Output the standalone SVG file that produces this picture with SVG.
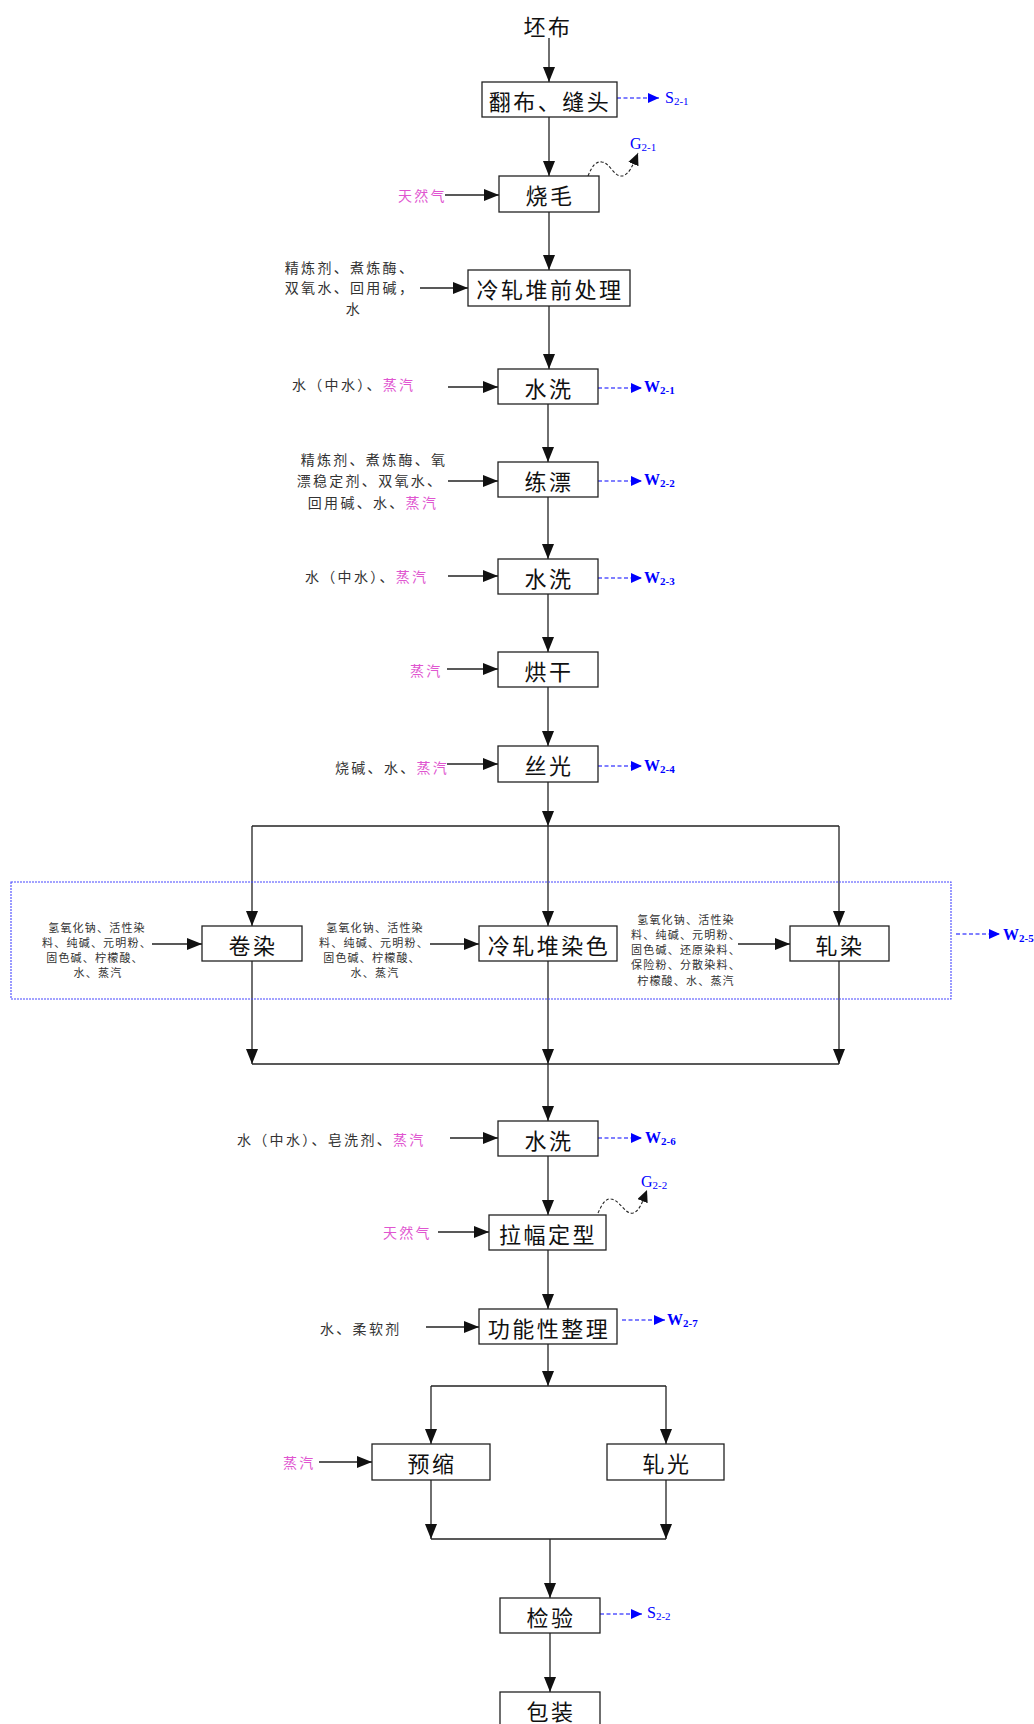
<svg xmlns="http://www.w3.org/2000/svg" width="1034" height="1724" viewBox="0 0 1034 1724">
<style>
.box{fill:#fff;stroke:#222;stroke-width:1.3}
.lbl{font-family:"Noto Sans CJK SC","Noto Sans",sans-serif;font-size:22px;letter-spacing:2.5px;fill:#111;text-anchor:middle;dominant-baseline:central}
.side{font-family:"Noto Sans CJK SC","Noto Sans",sans-serif;font-size:14px;letter-spacing:2.3px;fill:#333;dominant-baseline:central}
.small{font-family:"Noto Sans CJK SC","Noto Sans",sans-serif;font-size:11px;letter-spacing:1.2px;fill:#333;text-anchor:middle;dominant-baseline:central}
.mag{fill:#E055D0}
.ln{fill:none;stroke:#222;stroke-width:1.3}
.arr{fill:none;stroke:#222;stroke-width:1.3;marker-end:url(#ah)}
.out{fill:none;stroke:#0000FF;stroke-width:1.2;stroke-dasharray:4,2.5;marker-end:url(#bh)}
.wave{fill:none;stroke:#222;stroke-width:1.1;stroke-dasharray:3,2;marker-end:url(#wh)}
.em{font-family:"Liberation Serif",serif;font-size:16px;fill:#0000FF}
.emb{font-family:"Liberation Serif",serif;font-size:16px;font-weight:bold;fill:#0000FF}
.sub{font-size:11px}
</style>
<defs>
<marker id="ah" markerUnits="userSpaceOnUse" markerWidth="15" markerHeight="12" refX="15" refY="6" orient="auto"><path d="M0,0 L15,6 L0,12 z" fill="#111"/></marker>
<marker id="bh" markerUnits="userSpaceOnUse" markerWidth="11" markerHeight="10" refX="11" refY="5" orient="auto"><path d="M0,0 L11,5 L0,10 z" fill="#0000FF"/></marker>
<marker id="wh" markerUnits="userSpaceOnUse" markerWidth="12" markerHeight="11" refX="12" refY="5.5" orient="auto"><path d="M0,0 L12,5.5 L0,11 z" fill="#111"/></marker>
</defs>

<g id="connectors">
<path class="arr" d="M549,38 V82"/>
<path class="arr" d="M549,117 V176"/>
<path class="arr" d="M549,212 V270"/>
<path class="arr" d="M549,306 V369"/>
<path class="arr" d="M548,404 V462"/>
<path class="arr" d="M548,497 V559"/>
<path class="arr" d="M548,594 V652"/>
<path class="arr" d="M548,687 V746"/>
<path class="arr" d="M548,782 V826"/>
<path class="ln" d="M252,826 H839"/>
<path class="arr" d="M252,826 V926"/>
<path class="arr" d="M548,826 V926"/>
<path class="arr" d="M839,826 V926"/>
<path class="arr" d="M252,961 V1064"/>
<path class="arr" d="M548,961 V1064"/>
<path class="arr" d="M839,961 V1064"/>
<path class="ln" d="M252,1064 H839"/>
<path class="arr" d="M548,1064 V1121"/>
<path class="arr" d="M548,1156 V1215"/>
<path class="arr" d="M548,1250 V1309"/>
<path class="arr" d="M548,1344 V1386"/>
<path class="ln" d="M431,1386 H666"/>
<path class="arr" d="M431,1386 V1444"/>
<path class="arr" d="M666,1386 V1444"/>
<path class="arr" d="M431,1480 V1539"/>
<path class="arr" d="M666,1480 V1539"/>
<path class="ln" d="M431,1539 H666"/>
<path class="arr" d="M550,1539 V1598"/>
<path class="arr" d="M550,1633 V1692"/>

<path class="arr" d="M445,195 H499"/>
<path class="arr" d="M420,288 H468"/>
<path class="arr" d="M448,387 H498"/>
<path class="arr" d="M448,481 H498"/>
<path class="arr" d="M448,576 H498"/>
<path class="arr" d="M447,669 H498"/>
<path class="arr" d="M447,764 H498"/>
<path class="arr" d="M152,944 H202"/>
<path class="arr" d="M430,944 H479"/>
<path class="arr" d="M738,944 H790"/>
<path class="arr" d="M450,1138 H498"/>
<path class="arr" d="M438,1232 H489"/>
<path class="arr" d="M426,1327 H479"/>
<path class="arr" d="M319,1462 H372"/>

<path class="out" d="M617,98 H659"/>
<path class="out" d="M598,388 H642"/>
<path class="out" d="M598,481 H642"/>
<path class="out" d="M598,578 H642"/>
<path class="out" d="M598,766 H642"/>
<path class="out" d="M956,934 H1000"/>
<path class="out" d="M598,1138 H642"/>
<path class="out" d="M622,1320 H665"/>
<path class="out" d="M600,1614 H642"/>

<path class="wave" d="M588,176 C592,166 596,161 602,162 C610,163 614,177 622,176 C629,175 633,165 638,153"/>
<path class="wave" d="M598,1213 C602,1204 606,1198 611,1199 C620,1200 625,1215 633,1213 C640,1211 643,1200 647,1190"/>
</g>

<rect id="dye-zone" x="11" y="882" width="940" height="117" fill="none" stroke="#4747FF" stroke-width="1.1" stroke-dasharray="2,1"/>

<g id="n-pibu"><text class="lbl" x="548" y="25">坯布</text></g>
<g id="n-fanbu"><rect class="box" x="482" y="82" width="135" height="35"/><text class="lbl" x="550" y="99.5">翻布、缝头</text></g>
<g id="n-shaomao"><rect class="box" x="499" y="176" width="100" height="36"/><text class="lbl" x="550" y="194">烧毛</text></g>
<g id="n-lengzha"><rect class="box" x="468" y="270" width="162" height="36"/><text class="lbl" x="550" y="288">冷轧堆前处理</text></g>
<g id="n-shuixi1"><rect class="box" x="498" y="369" width="100" height="35"/><text class="lbl" x="549" y="386.5">水洗</text></g>
<g id="n-lianpiao"><rect class="box" x="498" y="462" width="100" height="35"/><text class="lbl" x="549" y="479.5">练漂</text></g>
<g id="n-shuixi2"><rect class="box" x="498" y="559" width="100" height="35"/><text class="lbl" x="549" y="576.5">水洗</text></g>
<g id="n-honggan"><rect class="box" x="498" y="652" width="100" height="35"/><text class="lbl" x="549" y="669.5">烘干</text></g>
<g id="n-siguang"><rect class="box" x="498" y="746" width="100" height="36"/><text class="lbl" x="549" y="764">丝光</text></g>
<g id="n-juanran"><rect class="box" x="202" y="926" width="100" height="35"/><text class="lbl" x="253" y="943.5">卷染</text></g>
<g id="n-lengzharan"><rect class="box" x="479" y="926" width="138" height="35"/><text class="lbl" x="549" y="943.5">冷轧堆染色</text></g>
<g id="n-zharan"><rect class="box" x="790" y="926" width="99" height="35"/><text class="lbl" x="840" y="943.5">轧染</text></g>
<g id="n-shuixi3"><rect class="box" x="498" y="1121" width="100" height="35"/><text class="lbl" x="549" y="1138.5">水洗</text></g>
<g id="n-lafu"><rect class="box" x="489" y="1215" width="117" height="35"/><text class="lbl" x="548" y="1232.5">拉幅定型</text></g>
<g id="n-gongneng"><rect class="box" x="479" y="1309" width="138" height="35"/><text class="lbl" x="549" y="1326.5">功能性整理</text></g>
<g id="n-yusuo"><rect class="box" x="372" y="1444" width="118" height="36"/><text class="lbl" x="432" y="1462">预缩</text></g>
<g id="n-zhaguang"><rect class="box" x="607" y="1444" width="117" height="36"/><text class="lbl" x="667" y="1462">轧光</text></g>
<g id="n-jianyan"><rect class="box" x="500" y="1598" width="100" height="35"/><text class="lbl" x="551" y="1615.5">检验</text></g>
<g id="n-baozhuang"><rect class="box" x="500" y="1692" width="100" height="36"/><text class="lbl" x="551" y="1710">包装</text></g>

<g id="inputs">
<text class="side mag" x="398" y="195">天然气</text>
<text class="side" text-anchor="middle" x="350" y="267">精炼剂、煮炼酶、</text>
<text class="side" text-anchor="middle" x="350" y="287">双氧水、回用碱，</text>
<text class="side" text-anchor="middle" x="354" y="308">水</text>
<text class="side" x="292" y="384">水（中水）、<tspan class="mag">蒸汽</tspan></text>
<text class="side" text-anchor="middle" x="374" y="459">精炼剂、煮炼酶、氧</text>
<text class="side" text-anchor="middle" x="370" y="480">漂稳定剂、双氧水、</text>
<text class="side" text-anchor="middle" x="373" y="502">回用碱、水、<tspan class="mag">蒸汽</tspan></text>
<text class="side" x="305" y="576">水（中水）、<tspan class="mag">蒸汽</tspan></text>
<text class="side mag" x="410" y="670">蒸汽</text>
<text class="side" x="335" y="767">烧碱、水、<tspan class="mag">蒸汽</tspan></text>
<text class="small" x="97" y="927">氢氧化钠、活性染</text>
<text class="small" x="97" y="942">料、纯碱、元明粉、</text>
<text class="small" x="95" y="957">固色碱、柠檬酸、</text>
<text class="small" x="98" y="972">水、蒸汽</text>
<text class="small" x="375" y="927">氢氧化钠、活性染</text>
<text class="small" x="374" y="942">料、纯碱、元明粉、</text>
<text class="small" x="372" y="957">固色碱、柠檬酸、</text>
<text class="small" x="375" y="972">水、蒸汽</text>
<text class="small" x="686" y="919">氢氧化钠、活性染</text>
<text class="small" x="686" y="934">料、纯碱、元明粉、</text>
<text class="small" x="686" y="949">固色碱、还原染料、</text>
<text class="small" x="686" y="964">保险粉、分散染料、</text>
<text class="small" x="686" y="980">柠檬酸、水、蒸汽</text>
<text class="side" x="237" y="1139">水（中水）、皂洗剂、<tspan class="mag">蒸汽</tspan></text>
<text class="side mag" x="383" y="1232">天然气</text>
<text class="side" x="320" y="1328">水、柔软剂</text>
<text class="side mag" x="283" y="1462">蒸汽</text>
</g>

<g id="outputs">
<text class="em" x="665" y="103">S<tspan class="sub" dy="2">2-1</tspan></text>
<text class="em" x="630" y="149">G<tspan class="sub" dy="2">2-1</tspan></text>
<text class="emb" x="644" y="392">W<tspan class="sub" dy="2">2-1</tspan></text>
<text class="emb" x="644" y="485">W<tspan class="sub" dy="2">2-2</tspan></text>
<text class="emb" x="644" y="583">W<tspan class="sub" dy="2">2-3</tspan></text>
<text class="emb" x="644" y="771">W<tspan class="sub" dy="2">2-4</tspan></text>
<text class="emb" x="1003" y="940">W<tspan class="sub" dy="2">2-5</tspan></text>
<text class="emb" x="645" y="1143">W<tspan class="sub" dy="2">2-6</tspan></text>
<text class="em" x="641" y="1187">G<tspan class="sub" dy="2">2-2</tspan></text>
<text class="emb" x="667" y="1325">W<tspan class="sub" dy="2">2-7</tspan></text>
<text class="em" x="647" y="1618">S<tspan class="sub" dy="2">2-2</tspan></text>
</g>
</svg>
